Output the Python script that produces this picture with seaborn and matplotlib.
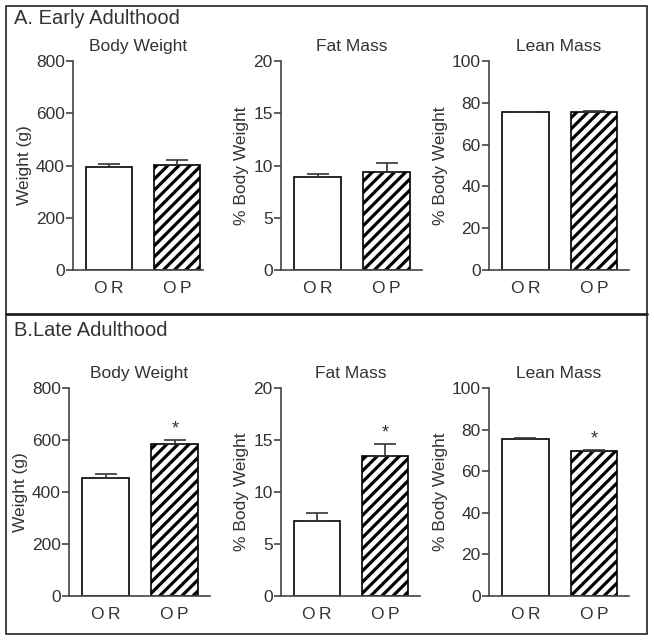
import matplotlib
matplotlib.use("Agg")
import matplotlib.pyplot as plt
import seaborn as sns
import pandas as pd
from matplotlib.patches import Rectangle
from matplotlib.lines import Line2D

# Data (means and SEM)
groups = ["O\u2009R", "O\u2009P"]
titles = ["Body Weight", "Fat Mass", "Lean Mass"]
ylabels = ["Weight (g)", "% Body Weight", "% Body Weight"]
ymax = [800, 20, 100]
ystep = [200, 5, 20]

early_means = [[395, 402], [8.9, 9.4], [75.5, 75.5]]
early_err = [[10, 18], [0.3, 0.8], [0.3, 0.8]]
late_means = [[455, 585], [7.2, 13.5], [75.5, 69.5]]
late_err = [[15, 15], [0.8, 1.1], [0.5, 0.8]]
late_sig = [[False, True], [False, True], [False, True]]

sns.set_theme(style="ticks")
plt.rcParams['font.family'] = ['Liberation Sans', 'DejaVu Sans']
plt.rcParams['hatch.linewidth'] = 2.3
plt.rcParams['hatch.color'] = 'black'

W, H = 654, 642
fig = plt.figure(figsize=(W / 100, H / 100), dpi=100)
txt = '#333333'
line = '#444444'
fs = 12.5

# axes boxes in pixels: (left, right, top, bottom)
boxes_a = [(73, 203, 61, 270), (281, 422, 61, 270), (489, 629, 61, 270)]
boxes_b = [(69, 210, 388, 596), (281, 420, 388, 596), (489, 629, 388, 596)]


def make_axes(box):
    l, r, t, b = box
    return fig.add_axes([l / W, (H - b) / H, (r - l) / W, (b - t) / H])


def panel(ax, means, errs, title, ylabel, top, step, sig=None):
    df = pd.DataFrame({"group": groups, "value": means})
    sns.barplot(data=df, x="group", y="value", ax=ax, color="white",
                edgecolor="black", linewidth=1.2, width=0.68, errorbar=None,
                saturation=1)
    ax.patches[1].set_hatch("///")
    ax.errorbar([0, 1], means, yerr=[[0, 0], errs], fmt="none",
                ecolor="#333333", elinewidth=1.2, capsize=8, capthick=1.2)
    if sig:
        for i, s in enumerate(sig):
            if s:
                ax.text(i, means[i] + errs[i] + top * 0.012, "*", ha="center",
                        va="bottom", fontsize=13, color=txt)
    ax.set_ylim(0, top)
    ax.set_yticks(range(0, top + 1, step))
    ax.set_xlim(-0.53, 1.51)
    ax.set_xlabel("")
    ax.set_ylabel(ylabel, fontsize=fs, color=txt, labelpad=3)
    ax.set_title(title, fontsize=fs, color=txt, pad=7)
    sns.despine(ax=ax)
    for sp in ["left", "bottom"]:
        ax.spines[sp].set_color(line)
        ax.spines[sp].set_linewidth(1.2)
    ax.tick_params(axis="y", length=5, width=1.2, color=line, labelsize=fs,
                   labelcolor=txt, pad=1)
    ax.tick_params(axis="x", length=0, labelsize=fs, labelcolor=txt, pad=8)
    ax.set_facecolor("none")


for i in range(3):
    ax = make_axes(boxes_a[i])
    panel(ax, early_means[i], early_err[i], titles[i], ylabels[i], ymax[i], ystep[i])
    if i == 0:
        ax.set_xlim(-0.53, 1.38)
for i in range(3):
    ax = make_axes(boxes_b[i])
    panel(ax, late_means[i], late_err[i], titles[i], ylabels[i], ymax[i], ystep[i],
          late_sig[i])

# frame and divider
fig.patches.append(Rectangle((6 / W, (H - 634) / H), 641 / W, 628 / H,
                             transform=fig.transFigure, fill=False,
                             edgecolor='#222222', linewidth=1.2))
fig.lines.append(Line2D([6 / W, 647 / W], [(H - 314) / H, (H - 314) / H],
                        transform=fig.transFigure, color='#222222', linewidth=2))

fig.text(14 / W, (H - 18) / H, "A. Early Adulthood", fontsize=14.5, color=txt,
         va="center", ha="left")
fig.text(14 / W, (H - 330) / H, "B.Late Adulthood", fontsize=14.5, color=txt,
         va="center", ha="left")

fig.savefig("out.png", dpi=100)
